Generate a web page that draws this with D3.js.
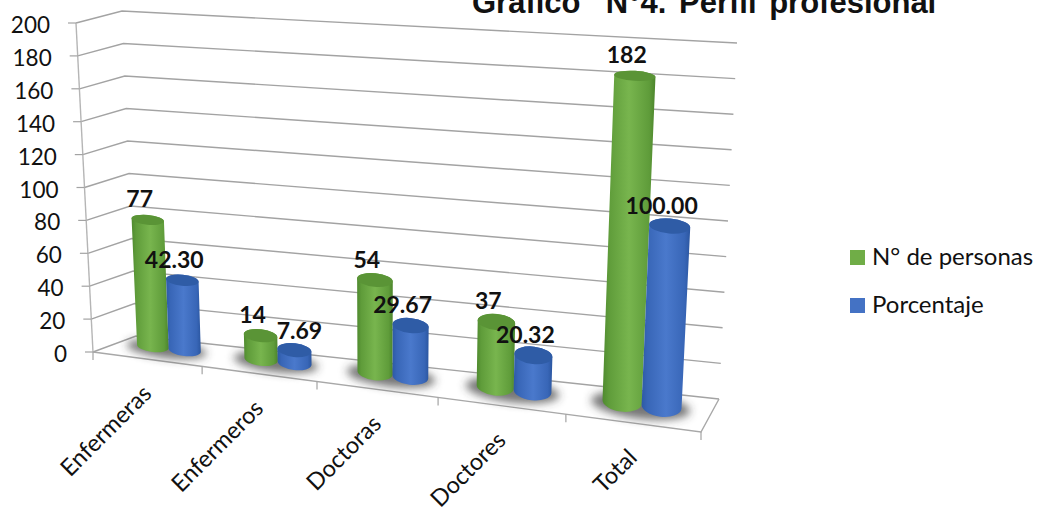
<!DOCTYPE html>
<html lang="es">
<head>
<meta charset="utf-8">
<script src="https://cdn.jsdelivr.net/npm/d3@7/dist/d3.min.js"></script>
<style>
  html, body { margin: 0; padding: 0; background: #fff; overflow: hidden; }
  text { font-family: Lato, "Open Sans", sans-serif; fill: #111; }
</style>
</head>
<body>
<svg id="chart" width="1041" height="508"></svg>
<script>
// Chart content
const titleText = "Gráfico  N°4. Perfil profesional";
const categories = ["Enfermeras", "Enfermeros", "Doctoras", "Doctores", "Total"];
const seriesNames = ["N° de personas", "Porcentaje"];
const personas = [77, 14, 54, 37, 182];
const porcentaje = [42.30, 7.69, 29.67, 20.32, 100.00];
const valueTicks = d3.range(0, 201, 20);

// Box corners of the 3D plot area on screen
const floorFL = [93, 352], floorBL = [136, 336], floorBR = [719, 399], floorFR = [701, 432];
const ceilFL = [76, 23], ceilBL = [122, 11], ceilBR = [737, 43], ceilFR = [722, 57];

// Foreshortening along the category direction: the right side is nearer the viewer
const foreshorten = -0.125;

function edge(a, b) {
  const A = [0, 1].map(k => b[k] * (1 + foreshorten) - a[k]);
  return u => [0, 1].map(k => (A[k] * u + a[k]) / (foreshorten * u + 1));
}
function plane(fl, fr, bl, br) {
  const front = edge(fl, fr), back = edge(bl, br);
  return (u, z) => {
    const f = front(u), b = back(u);
    return [f[0] + (b[0] - f[0]) * z, f[1] + (b[1] - f[1]) * z];
  };
}
const floorMap = plane(floorFL, floorFR, floorBL, floorBR);
const ceilMap = plane(ceilFL, ceilFR, ceilBL, ceilBR);

const uScale = d3.scaleBand().domain(categories).range([0, 1]);
const vScale = d3.scaleLinear().domain([0, 200]).range([0, 1]);
const seriesOffset = d3.scaleBand().domain(seriesNames).range([-0.065, 0.055]);

function project(u, z, value) {
  const t = vScale(value);
  const a = floorMap(u, z), b = ceilMap(u, z);
  return [a[0] + (b[0] - a[0]) * t, a[1] + (b[1] - a[1]) * t];
}

const svg = d3.select("#chart");
const defs = svg.append("defs");

// Horizontal shading for the cylinders
function cylinderGradient(id, stops) {
  const g = defs.append("linearGradient").attr("id", id);
  stops.forEach(([o, c]) => g.append("stop").attr("offset", o).attr("stop-color", c));
}
cylinderGradient("greenBody", [[0, "#4f8a2f"], [0.12, "#5f9c3a"], [0.5, "#78b54e"], [0.88, "#5f9c3a"], [1, "#4c852c"]]);
cylinderGradient("blueBody",  [[0, "#2d5aa5"], [0.12, "#3866b7"], [0.5, "#4a79cc"], [0.88, "#3866b7"], [1, "#2b56a0"]]);
defs.append("filter").attr("id", "baseShadow")
  .attr("x", "-40%").attr("y", "-80%").attr("width", "180%").attr("height", "260%")
  .append("feGaussianBlur").attr("stdDeviation", 4);

const bodyFill = { [seriesNames[0]]: "url(#greenBody)", [seriesNames[1]]: "url(#blueBody)" };
const capFill  = { [seriesNames[0]]: "#5a9436", [seriesNames[1]]: "#2f5ca6" };
const swatch   = { [seriesNames[0]]: "#70ad47", [seriesNames[1]]: "#4472c4" };

const line = d3.line();

// Floor
svg.append("path")
  .attr("d", line([floorFL, floorFR, floorBR, floorBL]) + "Z")
  .attr("fill", "#fff");

// Gridlines on the side wall and back wall
svg.append("g").selectAll("path").data(valueTicks).join("path")
  .attr("d", v => line([project(0, 0, v), project(0, 1, v), project(1, 1, v)]))
  .attr("fill", "none").attr("stroke", "#a3a3a3").attr("stroke-width", 1.4);

// Value axis
svg.append("path").attr("d", line([project(0, 0, 0), project(0, 0, 200)]))
  .attr("fill", "none").attr("stroke", "#b5b5b5").attr("stroke-width", 1.4);
svg.append("g").selectAll("path").data(valueTicks).join("path")
  .attr("d", v => { const p = project(0, 0, v); return line([[p[0] - 8, p[1]], p]); })
  .attr("stroke", "#a3a3a3").attr("stroke-width", 1.2);
svg.append("g").selectAll("text").data(valueTicks).join("text")
  .attr("x", v => project(0, 0, v)[0] - 26)
  .attr("y", v => project(0, 0, v)[1] + 10)
  .attr("text-anchor", "end").attr("font-size", 22.5).text(v => v);

// Floor front and right edges with category ticks
svg.append("path").attr("d", line([floorFL, floorFR, floorBR]))
  .attr("fill", "none").attr("stroke", "#a8a8a8").attr("stroke-width", 1.4);
const boundaries = d3.range(0, categories.length + 1).map(i => i / categories.length);
svg.append("g").selectAll("path").data(boundaries).join("path")
  .attr("d", u => { const p = floorMap(u, 0); return line([p, [p[0], p[1] + 8]]); })
  .attr("stroke", "#a3a3a3").attr("stroke-width", 1.2);

// Category labels
const axisDepthGap = 36;
svg.append("g").selectAll("text").data(categories).join("text")
  .attr("transform", c => {
    const p = floorMap(uScale(c) + uScale.bandwidth() / 2, 0);
    return `translate(${p[0] + 6},${p[1] + axisDepthGap}) rotate(-45)`;
  })
  .attr("text-anchor", "end").attr("font-size", 23.5).text(c => c);

// One cylinder's outline measurements at a given value
const radiusU = 0.03, radiusZ = 0.33, barDepth = 0.6;
function disc(u, value) {
  const c = project(u, barDepth, value);
  const l = project(u - radiusU, barDepth, value), r = project(u + radiusU, barDepth, value);
  const near = project(u, barDepth - radiusZ, value), far = project(u, barDepth + radiusZ, value);
  const ry = Math.abs(near[1] - far[1]) / 2;
  const rx = Math.hypot(r[0] - l[0], r[1] - l[1]) / 2;
  const tilt = Math.atan2(r[1] - l[1], r[0] - l[0]) * 180 / Math.PI;
  return { c, l, r, rx, ry, tilt };
}

function cylinderPath(u, value) {
  const top = disc(u, value), base = disc(u, 0);
  return `M${top.l}L${base.l}A${base.rx},${base.ry} ${base.tilt} 0 0 ${base.r}` +
         `L${top.r}A${top.rx},${top.ry} ${top.tilt} 0 0 ${top.l}Z`;
}

const marks = categories.flatMap((c, i) => [
  { c, series: seriesNames[0], value: personas[i] },
  { c, series: seriesNames[1], value: porcentaje[i] }
]).map(d => ({
  ...d,
  u: uScale(d.c) + uScale.bandwidth() / 2 + seriesOffset(d.series) + seriesOffset.bandwidth() / 2
}));

// Soft shadows where the cylinders meet the floor
svg.append("g").selectAll("ellipse").data(categories).join("ellipse")
  .each(function(c) {
    const u = uScale(c) + uScale.bandwidth() / 2 - 0.005;
    const p = project(u, barDepth - 0.05, 0);
    const d = disc(u, 0);
    d3.select(this)
      .attr("cx", p[0]).attr("cy", p[1])
      .attr("rx", d.rx * 2.5).attr("ry", d.ry + 3)
      .attr("transform", `rotate(${d.tilt} ${p[0]} ${p[1]})`);
  })
  .attr("fill", "#3a3a3a").attr("fill-opacity", 0.7).attr("filter", "url(#baseShadow)");

// Cylinders
const bars = svg.append("g").selectAll("g").data(marks).join("g");
bars.append("path")
  .attr("d", d => cylinderPath(d.u, d.value))
  .attr("fill", d => bodyFill[d.series]);
bars.append("ellipse")
  .each(function(d) {
    const t = disc(d.u, d.value);
    d3.select(this).attr("cx", t.c[0]).attr("cy", t.c[1]).attr("rx", t.rx).attr("ry", t.ry)
      .attr("transform", `rotate(${t.tilt} ${t.c[0]} ${t.c[1]})`);
  })
  .attr("fill", d => capFill[d.series]);

// Value labels sit up and to the left of each cap; the small blue one is moved clear of its neighbour
const fmt = { [seriesNames[0]]: d3.format("d"), [seriesNames[1]]: d3.format(".2f") };
const labelShift = d => d.value === porcentaje[1] ? [5, -11] : [-8, -12.5];
svg.append("g").selectAll("text").data(marks).join("text")
  .attr("x", d => disc(d.u, d.value).c[0] + labelShift(d)[0])
  .attr("y", d => disc(d.u, d.value).c[1] + labelShift(d)[1])
  .attr("text-anchor", "middle").attr("font-size", 23).attr("font-weight", 700)
  .attr("fill", "#000")
  .text(d => fmt[d.series](d.value));

// Legend
const legend = svg.append("g").selectAll("g").data(seriesNames).join("g")
  .attr("transform", (d, i) => `translate(850,${250 + i * 48})`);
legend.append("rect").attr("width", 15).attr("height", 15).attr("fill", d => swatch[d]);
legend.append("text").attr("x", 22).attr("y", 15).attr("font-size", 24).text(d => d);

// Title, running off the top edge
svg.append("text").attr("x", 472).attr("y", 13)
  .attr("font-size", 31).attr("font-weight", 700)
  .attr("word-spacing", 4)
  .style("font-family", "'Liberation Sans', Arial, sans-serif")
  .style("white-space", "pre").text(titleText);
</script>
</body>
</html>
